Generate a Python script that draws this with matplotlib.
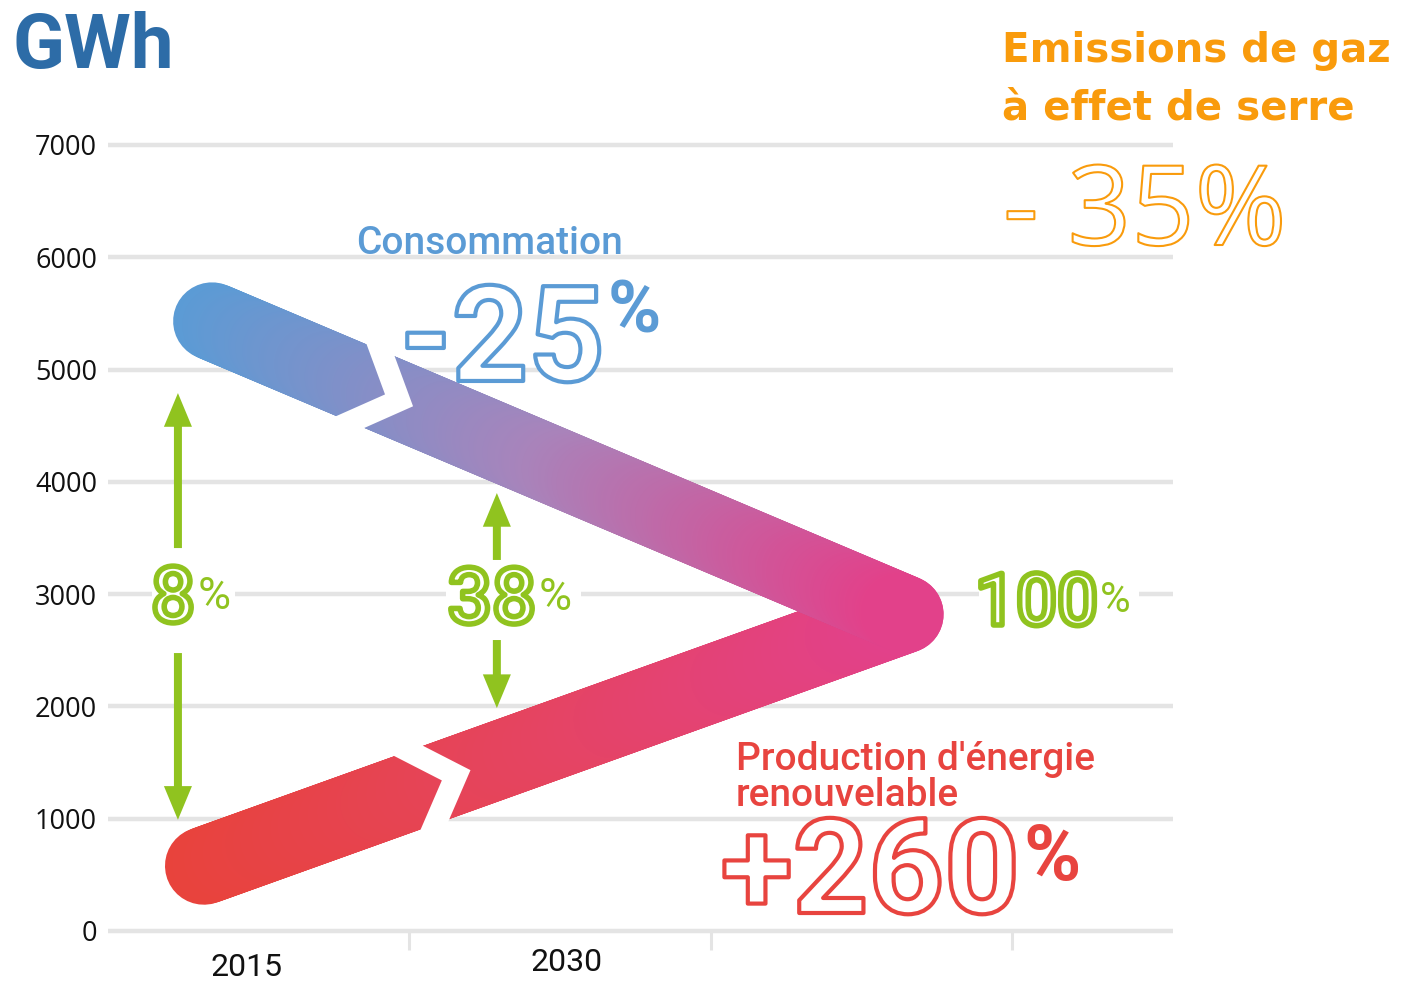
import numpy as np
import matplotlib.pyplot as plt
import matplotlib.patheffects as pe
from matplotlib.collections import LineCollection
from matplotlib.colors import LinearSegmentedColormap
from matplotlib.patches import FancyArrow

# Data
annees = ['2015', '2030']
gwh_ticks = [0, 1000, 2000, 3000, 4000, 5000, 6000, 7000]

# thick bands: start point (2015) -> meeting point
x_conso = [0.345, 2.643]
consommation = [5430, 2820]
x_prod = [0.318, 2.643]
production = [580, 2820]

# green arrows (share of renewable production)
fleche_x = [0.232, 1.29]
fleche_haut = [4790, 3900]
fleche_bas = [990, 1985]
fleche_trou = [(2475, 3410), (2591, 3304)]

parts = ['8', '38', '100']
parts_x = [0.289, 1.42, 3.284]
parts_y = [2750, 2740, 2725]
parts_size = [56, 56, 52]

# colours
bleu = '#5b9bd5'
rouge = '#e8443f'
vert = '#90c31f'
orange = '#f99b0c'
gris = '#e4e4e4'

fig = plt.figure(figsize=(14.08, 9.82), dpi=100)
# axes placed so that 0 -> 931px and 7000 -> 145px
ax = fig.add_axes([108 / 1408, (982 - 942.2) / 982, 1065 / 1408, 808.5 / 982])
ax.set_xlim(0, 3.533)
ax.set_ylim(-100, 7100)

for s in ax.spines.values():
    s.set_visible(False)
ax.set_xticks([])
ax.set_yticks(gwh_ticks)
ax.set_yticklabels([str(v) for v in gwh_ticks], fontsize=19.5, family='Open Sans', color='#111111')
ax.tick_params(axis='y', length=0, pad=8)
for v in gwh_ticks:
    ax.axhline(v, color=gris, lw=3.2, zorder=0)
# category separators under the axis
ax.vlines([1, 2, 3], -170, 0, color=gris, lw=2.2, clip_on=False, zorder=0)
for i, a in enumerate(annees):
    ax.text(0.458 + 1.064 * i, -325 + 45 * i, a, ha='center', va='center', fontsize=23,
            family='Roboto', color='#111111', clip_on=False)

band_lw = 56
def bande(xs, ys, couleurs):
    cmap = LinearSegmentedColormap.from_list('b', couleurs)
    n = 300
    x = np.linspace(xs[0], xs[1], n + 1)
    y = np.linspace(ys[0], ys[1], n + 1)
    pts = np.column_stack([x, y])
    segs = np.stack([pts[:-1], pts[1:]], axis=1)
    lc = LineCollection(segs, colors=cmap(np.linspace(0, 1, n)), linewidths=band_lw,
                        capstyle='round', zorder=2)
    ax.add_collection(lc)

def coupure(xs, ys, t):
    p0 = ax.transData.transform((xs[0], ys[0]))
    p1 = ax.transData.transform((xs[1], ys[1]))
    u = (p1 - p0) / np.linalg.norm(p1 - p0)
    n = np.array([-u[1], u[0]])
    c = p0 + t * (p1 - p0)
    pts = np.array([c - 44 * u + 47 * n, c, c - 44 * u - 47 * n])
    d = ax.transData.inverted().transform(pts)
    ax.plot(d[:, 0], d[:, 1], color='white', lw=16, solid_joinstyle='miter',
            solid_capstyle='butt', zorder=3)

bande(x_prod, production, ['#e8433c', '#e54460', '#e2418a'])
bande(x_conso, consommation, ['#5b9bd5', '#a884bb', '#e2418a'])
coupure(x_conso, consommation, 0.27)
coupure(x_prod, production, 0.36)

# arrows
for x, hi, lo, (g0, g1) in zip(fleche_x, fleche_haut, fleche_bas, fleche_trou):
    for start, end in [(g1, hi), (g0, lo)]:
        ax.add_patch(FancyArrow(x, start, 0, end - start, width=0.0265, head_width=0.093,
                                head_length=300, length_includes_head=True, color=vert,
                                lw=0, zorder=5))

for p, x, y, fs in zip(parts, parts_x, parts_y, parts_size):
    ax.text(x, y, p, ha='right', va='baseline', fontsize=fs, family='Roboto',
            weight='medium', color='white', zorder=4,
            path_effects=[pe.Stroke(linewidth=4, foreground=vert)])
    ax.text(x + 0.008, y + 120, '%', ha='left', va='baseline', fontsize=fs * 0.58,
            family='Roboto', color=vert, zorder=4)
# white boxes where the labels cut the 3000 line
for x0, x1 in [(0.145, 0.42), (1.12, 1.57), (2.89, 3.42)]:
    ax.fill_between([x0, x1], 2860, 3140, color='white', zorder=1, lw=0)

# consumption label
ax.text(0.823, 6029, 'Consommation', fontsize=28, family='Roboto', weight='medium',
        color=bleu, va='baseline', zorder=4)
ax.text(1.648, 4898, '-25', ha='right', va='baseline', fontsize=96, family='Roboto',
        weight='bold', color='white', zorder=4,
        path_effects=[pe.Stroke(linewidth=3, foreground=bleu)])
ax.text(1.658, 5326, '%', ha='left', va='baseline', fontsize=52, family='Roboto',
        weight='bold', color=bleu, zorder=4)

# production label
ax.text(2.083, 1434, "Production d'énergie", fontsize=28, family='Roboto', weight='medium',
        color=rouge, va='baseline', zorder=4)
ax.text(2.083, 1113, 'renouvelable', fontsize=28, family='Roboto', weight='medium',
        color=rouge, va='baseline', zorder=4)
ax.text(3.025, 160, '+260', ha='right', va='baseline', fontsize=95, family='Roboto',
        weight='bold', color='white', zorder=4,
        path_effects=[pe.Stroke(linewidth=3, foreground=rouge)])
ax.text(3.036, 454, '%', ha='left', va='baseline', fontsize=56, family='Roboto',
        weight='bold', color=rouge, zorder=4)

# titles
fig.text(12 / 1408, (982 - 68) / 982, 'GWh', fontsize=55, family='Roboto', weight='bold',
         color='#2d6ca7', va='baseline')
fig.text(1002 / 1408, (982 - 62) / 982, 'Emissions de gaz', fontsize=29,
         family='DejaVu Sans', weight='bold', color=orange, va='baseline')
fig.text(1002 / 1408, (982 - 120) / 982, 'à effet de serre', fontsize=29,
         family='DejaVu Sans', weight='bold', color=orange, va='baseline')
fig.text(1003 / 1408, (982 - 245) / 982, '- 35%', fontsize=80, family='Open Sans',
         color='white', va='baseline',
         path_effects=[pe.Stroke(linewidth=1.5, foreground=orange)])

fig.savefig('out.png', dpi=100)
